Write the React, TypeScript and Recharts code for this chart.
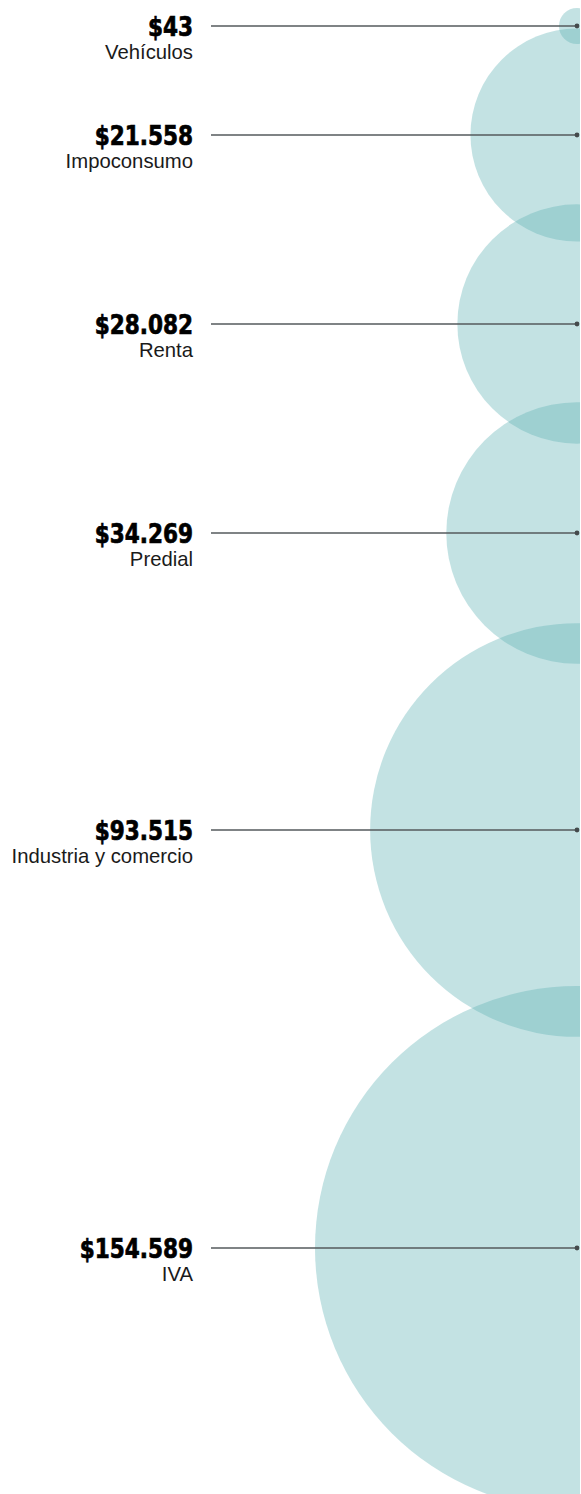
import React from 'react';
import { ScatterChart, Scatter, XAxis, YAxis, ZAxis } from 'recharts';

// Tax categories (top to bottom)
const categories = ['Vehículos', 'Impoconsumo', 'Renta', 'Predial', 'Industria y comercio', 'IVA'];
// Collected amounts
const values = [43, 21558, 28082, 34269, 93515, 154589];
// Value labels as printed
const valueLabels = ['$43', '$21.558', '$28.082', '$34.269', '$93.515', '$154.589'];
// Vertical placement of each bubble along the column
const positions = [26, 135, 324, 533, 830, 1248];
// All bubbles share the same horizontal anchor
const anchor = [1, 1, 1, 1, 1, 1];

const data = categories.map((name, i) => ({
  name,
  value: values[i],
  label: valueLabels[i],
  pos: positions[i],
  x: anchor[i],
}));

const maxValue = Math.max(...values);

const Bubble = (props: any) => {
  const { cx, cy, size } = props;
  return <circle cx={cx} cy={cy} r={size} fill="#62b3b6" fillOpacity={0.38} />;
};

const Leader = (props: any) => {
  const { cx, cy, payload } = props;
  return (
    <g>
      <line x1={211} y1={cy} x2={cx} y2={cy} stroke="#555a5c" strokeWidth={1.3} />
      <circle cx={cx} cy={cy} r={2.4} fill="#444a4c" />
      <text
        transform={`translate(193, ${cy + 9.5}) scale(1, 1.14)`}
        x={0}
        y={0}
        textAnchor="end"
        fontFamily="'DejaVu Sans Condensed', 'DejaVu Sans', sans-serif"
        fontWeight="bold"
        fontSize={24}
        fill="#000"
        stroke="#000"
        strokeWidth={0.6}
      >
        {payload.label}
      </text>
      <text
        x={193}
        y={cy + 33}
        textAnchor="end"
        fontFamily="'Liberation Sans', Arial, sans-serif"
        fontSize={20.3}
        fill="#1a1a1a"
      >
        {payload.name}
      </text>
    </g>
  );
};

export default function App() {
  return (
    <div style={{ position: 'absolute', left: 0, top: 0, width: 581, height: 1494, background: '#fff' }}>
      <ScatterChart width={580} height={1494} margin={{ top: 0, right: 3, bottom: 0, left: 0 }}>
        <XAxis type="number" dataKey="x" domain={[0, 1]} hide />
        <YAxis type="number" dataKey="pos" domain={[0, 1494]} reversed hide />
        <ZAxis type="number" dataKey="value" domain={[0, maxValue]} range={[13.9, 262]} scale="sqrt" />
        <Scatter data={data} shape={<Bubble />} isAnimationActive={false} />
        <Scatter data={data} shape={<Leader />} isAnimationActive={false} />
      </ScatterChart>
    </div>
  );
}
